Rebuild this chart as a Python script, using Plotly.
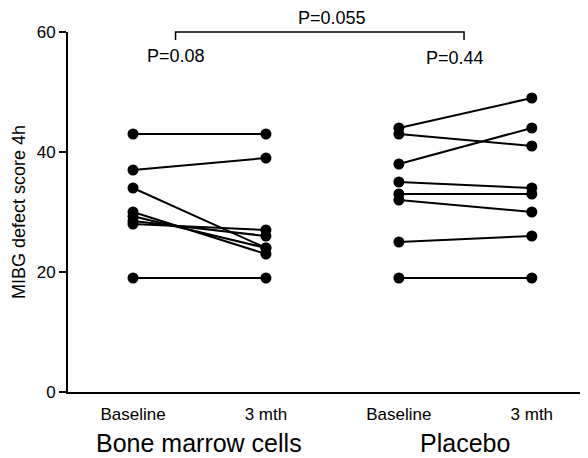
import plotly.graph_objects as go

categories = ["Baseline", "3 mth", "Baseline", "3 mth"]
groups = ["Bone marrow cells", "Placebo"]
bmc_baseline = [43, 37, 34, 30, 29.3, 28.5, 28, 19]
bmc_3mth = [43, 39, 24, 23, 24, 26, 27, 19]
placebo_baseline = [44, 43, 38, 35, 33, 32, 25, 19]
placebo_3mth = [49, 41, 44, 34, 33, 30, 26, 19]
p_within = ["P=0.08", "P=0.44"]
p_between = "P=0.055"
y_ticks = [0, 20, 40, 60]

FONT = "Liberation Sans, Arial, sans-serif"
fig = go.Figure()

for b, m in zip(bmc_baseline, bmc_3mth):
    fig.add_trace(go.Scatter(x=[0, 1], y=[b, m], mode="lines+markers",
                             line=dict(color="black", width=2),
                             marker=dict(color="black", size=11),
                             showlegend=False, cliponaxis=False))
for b, m in zip(placebo_baseline, placebo_3mth):
    fig.add_trace(go.Scatter(x=[2, 3], y=[b, m], mode="lines+markers",
                             line=dict(color="black", width=2),
                             marker=dict(color="black", size=11),
                             showlegend=False, cliponaxis=False))

# page has an 8px body margin, so the figure is 8px smaller and margins shifted
fig.update_layout(
    width=580, height=450,
    margin=dict(l=60, r=3, t=24, b=66),
    paper_bgcolor="white", plot_bgcolor="white",
    font=dict(family=FONT, color="black"),
    xaxis=dict(range=[-0.489, 3.40], tickvals=[0, 1, 2, 3], ticktext=categories,
               showline=True, linecolor="black", linewidth=2,
               ticks="outside", ticklen=6, tickcolor="rgba(0,0,0,0)",
               tickfont=dict(size=17), showgrid=False, zeroline=False),
    yaxis=dict(range=[0, 60], tickvals=y_ticks, showline=True, linecolor="black",
               linewidth=2, ticks="outside", ticklen=7, tickwidth=1.5, tickcolor="black",
               tickfont=dict(size=17), showgrid=False, zeroline=False,
               title=dict(text="MIBG defect score 4h", font=dict(size=18), standoff=6)),
)

# group labels
for i, g in enumerate(groups):
    fig.add_annotation(x=2 * i + 0.5, y=-0.142, xref="x", yref="paper", text=g,
                       showarrow=False, font=dict(size=25), yanchor="middle")

# bracket
fig.add_shape(type="path", xref="x", yref="paper",
              path="M 0.32,0.978 L 0.32,1.0 L 2.49,1.0 L 2.49,0.978",
              line=dict(color="black", width=1.5))
fig.add_annotation(x=1.5, y=1.039, xref="x", yref="paper", text=p_between,
                   showarrow=False, font=dict(size=18), yanchor="middle")
fig.add_annotation(x=0.32, y=56, xref="x", yref="y", text=p_within[0],
                   showarrow=False, font=dict(size=18), yanchor="middle")
fig.add_annotation(x=2.42, y=55.7, xref="x", yref="y", text=p_within[1],
                   showarrow=False, font=dict(size=18), yanchor="middle")

fig.write_html("out.html")
